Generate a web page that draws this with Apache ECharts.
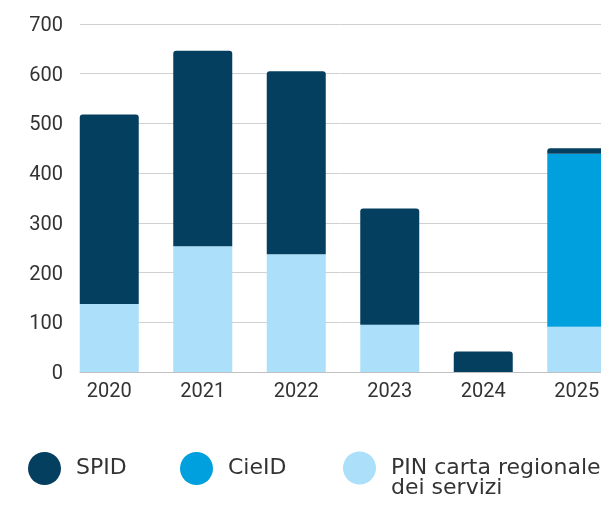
<!DOCTYPE html>
<html>
<head>
<meta charset="utf-8">
<script src="https://cdn.jsdelivr.net/npm/echarts@6/dist/echarts.min.js"></script>
<style>
  html, body { margin: 0; padding: 0; background: #fff; }
  #chart { width: 601px; height: 505px; }
</style>
</head>
<body>
<div id="chart"></div>
<script>
// dati
var years = ['2020', '2021', '2022', '2023', '2024', '2025'];
var pin = [137, 253, 237, 95, 0, 91];
var cie = [0, 0, 0, 0, 0, 348];
var spid = [381, 393, 368, 234, 41, 11];
var names = ['SPID', 'CieID', 'PIN carta regionale dei servizi'];
var colors = ['#053f60', '#009fdd', '#abdffa'];

var myChart = echarts.init(document.getElementById('chart'));

function legendItem(name, left, top) {
    return {
        data: [name],
        left: left,
        top: top,
        padding: 0,
        icon: 'circle',
        itemWidth: 53,
        itemHeight: 33,
        selectedMode: false,
        formatter: function (n) {
            // la voce lunga va su due righe, allineata in alto
            return n.indexOf('regionale') > -1 ? '\n' + n.replace('regionale ', 'regionale\n') : n;
        },
        textStyle: {
            fontFamily: 'DejaVu Sans',
            fontSize: 22,
            lineHeight: 20,
            color: '#333'
        }
    };
}

var option = {
    animation: false,
    color: colors,
    legend: [
        legendItem(names[0], 28, 452),
        legendItem(names[1], 180, 452),
        legendItem(names[2], 343, 437)
    ],
    grid: [
        // barre
        { left: 62.5, top: 24, width: 561, height: 348, outerBoundsMode: 'none' },
        // griglia e asse y
        { left: 80, top: 24, right: 0, height: 348, outerBoundsMode: 'none' }
    ],
    xAxis: [
        {
            type: 'category',
            gridIndex: 0,
            data: years,
            axisLine: { show: false },
            axisTick: { show: false },
            axisLabel: { fontFamily: 'Roboto', fontSize: 20, color: '#333', margin: 10 }
        },
        {
            type: 'value',
            gridIndex: 1,
            min: 0,
            max: 1,
            axisLabel: { show: false },
            axisTick: { show: false },
            splitLine: { show: false },
            axisLine: { show: true, lineStyle: { color: '#c0c0c0', width: 1 } }
        }
    ],
    yAxis: [
        {
            type: 'value',
            gridIndex: 0,
            min: 0,
            max: 700,
            interval: 100,
            show: false
        },
        {
            type: 'value',
            gridIndex: 1,
            min: 0,
            max: 700,
            interval: 100,
            axisLine: { show: false },
            axisTick: { show: false },
            axisLabel: {
                fontFamily: 'Roboto', fontSize: 20, color: '#333', margin: 17,
                verticalAlign: 'top', lineHeight: 4
            },
            splitLine: { lineStyle: { color: '#d0d0d0', width: 1 } }
        }
    ],
    series: [
        {
            name: names[2],
            type: 'bar',
            stack: 'tot',
            barWidth: 59,
            xAxisIndex: 0,
            yAxisIndex: 0,
            itemStyle: { color: colors[2] },
            data: pin
        },
        {
            name: names[1],
            type: 'bar',
            stack: 'tot',
            barWidth: 59,
            xAxisIndex: 0,
            yAxisIndex: 0,
            itemStyle: { color: colors[1] },
            data: cie
        },
        {
            name: names[0],
            type: 'bar',
            stack: 'tot',
            barWidth: 59,
            xAxisIndex: 0,
            yAxisIndex: 0,
            itemStyle: { color: colors[0], borderRadius: [3, 3, 0, 0] },
            data: spid
        }
    ]
};
myChart.setOption(option);
</script>
</body>
</html>
